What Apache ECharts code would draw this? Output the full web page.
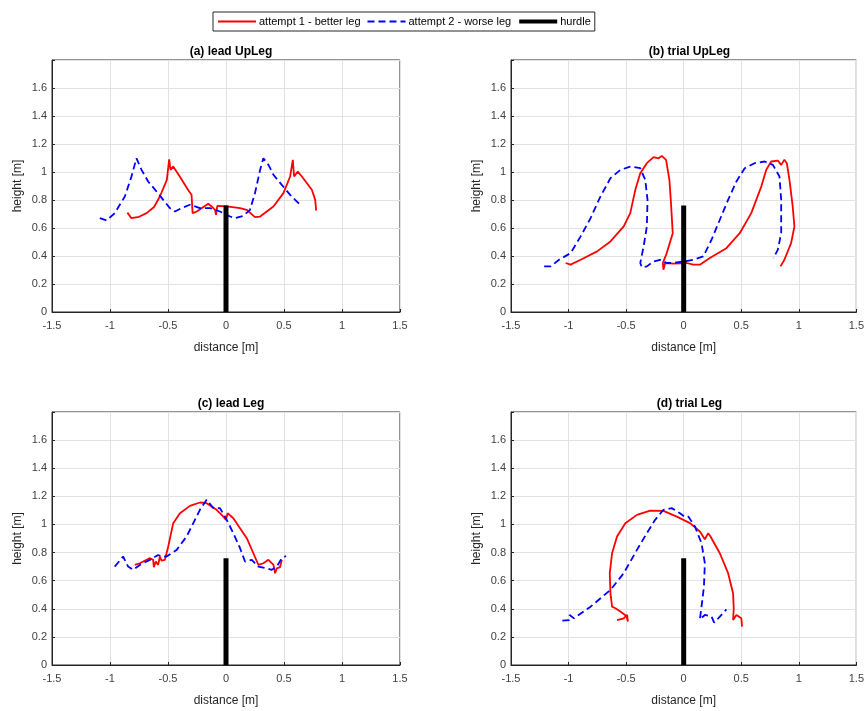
<!DOCTYPE html>
<html>
<head>
<meta charset="utf-8">
<script src="https://cdn.jsdelivr.net/npm/echarts@6/dist/echarts.min.js"></script>
<style>
  html, body { margin: 0; padding: 0; background: #fff; }
  #chart { width: 867px; height: 711px; }
</style>
</head>
<body>
<div id="chart"></div>
<script>
// panel titles and legend names
const panelTitles = ['(a) lead UpLeg', '(b) trial UpLeg', '(c) lead Leg', '(d) trial Leg'];
const seriesNames = ['attempt 1 - better leg', 'attempt 2 - worse leg', 'hurdle'];
const xTicks = [-1.5, -1, -0.5, 0, 0.5, 1, 1.5];
const yTicks = [0, 0.2, 0.4, 0.6, 0.8, 1, 1.2, 1.4, 1.6];

// hurdle: [distance, height]
const hurdle = [[0, 0], [0, 0.76]];

// (a) lead UpLeg
const leadUpLeg1 = [[-0.85, 0.71], [-0.815, 0.67], [-0.75, 0.68], [-0.685, 0.706], [-0.62, 0.75], [-0.57, 0.825], [-0.51, 0.944], [-0.49, 1.09],
  [-0.478, 1.015], [-0.455, 1.04], [-0.40, 0.97], [-0.325, 0.87], [-0.297, 0.837], [-0.288, 0.706], [-0.253, 0.718], [-0.153, 0.773],
  [-0.124, 0.754], [-0.095, 0.73], [-0.086, 0.694], [-0.075, 0.758], [0.006, 0.754], [0.121, 0.742], [0.178, 0.73], [0.25, 0.678],
  [0.294, 0.682], [0.409, 0.754], [0.495, 0.849], [0.553, 0.968], [0.576, 1.087], [0.587, 0.968], [0.619, 1.003], [0.654, 0.968],
  [0.74, 0.873], [0.769, 0.801], [0.777, 0.725]];
const leadUpLeg2 = [[-1.088, 0.67], [-1.03, 0.654], [-0.959, 0.706], [-0.872, 0.825], [-0.815, 0.968], [-0.772, 1.098], [-0.728, 1.015],
  [-0.671, 0.932], [-0.599, 0.861], [-0.541, 0.801], [-0.484, 0.742], [-0.44, 0.718], [-0.383, 0.742], [-0.311, 0.766], [-0.225, 0.742],
  [-0.138, 0.742], [-0.052, 0.718], [0.035, 0.682], [0.078, 0.67], [0.15, 0.687], [0.207, 0.73], [0.25, 0.849], [0.294, 1.015],
  [0.322, 1.098], [0.366, 1.051], [0.409, 0.98], [0.481, 0.908], [0.553, 0.837], [0.596, 0.801], [0.654, 0.754]];

// (b) trial UpLeg
const trialUpLeg1 = [[-1.025, 0.35], [-0.982, 0.338], [-0.895, 0.373], [-0.752, 0.433], [-0.636, 0.504], [-0.521, 0.611], [-0.464, 0.706],
  [-0.42, 0.873], [-0.377, 0.991], [-0.32, 1.063], [-0.262, 1.106], [-0.219, 1.098], [-0.19, 1.115], [-0.153, 1.087], [-0.124, 0.944],
  [-0.112, 0.801], [-0.095, 0.563], [-0.147, 0.421], [-0.181, 0.35], [-0.176, 0.302], [-0.161, 0.35], [-0.089, 0.345], [0.026, 0.35],
  [0.084, 0.338], [0.141, 0.338], [0.227, 0.385], [0.371, 0.456], [0.487, 0.563], [0.587, 0.706], [0.674, 0.896], [0.717, 1.015],
  [0.76, 1.075], [0.818, 1.082], [0.847, 1.051], [0.875, 1.087], [0.896, 1.063], [0.919, 0.944], [0.947, 0.754], [0.962, 0.611],
  [0.933, 0.492], [0.875, 0.373], [0.841, 0.326]];
const trialUpLeg2 = [[-1.212, 0.326], [-1.155, 0.326], [-1.083, 0.373], [-0.982, 0.421], [-0.895, 0.54], [-0.809, 0.67], [-0.723, 0.825],
  [-0.636, 0.956], [-0.55, 1.015], [-0.464, 1.039], [-0.377, 1.027], [-0.334, 0.944], [-0.314, 0.801], [-0.32, 0.611], [-0.348, 0.468],
  [-0.377, 0.35], [-0.363, 0.319], [-0.32, 0.326], [-0.262, 0.361], [-0.204, 0.373], [-0.147, 0.35], [-0.089, 0.35], [-0.003, 0.361],
  [0.084, 0.373], [0.17, 0.397], [0.242, 0.516], [0.314, 0.659], [0.386, 0.801], [0.458, 0.932], [0.53, 1.027], [0.616, 1.063],
  [0.703, 1.075], [0.775, 1.051], [0.832, 0.968], [0.847, 0.801], [0.847, 0.563], [0.818, 0.445], [0.78, 0.385]];

// (c) lead Leg
const leadLeg1 = [[-0.786, 0.712], [-0.743, 0.724], [-0.656, 0.76], [-0.628, 0.748], [-0.622, 0.696], [-0.605, 0.736], [-0.585, 0.712],
  [-0.57, 0.772], [-0.556, 0.743], [-0.527, 0.748], [-0.498, 0.843], [-0.455, 1.009], [-0.397, 1.08], [-0.311, 1.132], [-0.225, 1.156],
  [-0.167, 1.151], [-0.081, 1.104], [-0.023, 1.056], [0, 1.033], [0.014, 1.08], [0.063, 1.044], [0.121, 0.973], [0.179, 0.902],
  [0.236, 0.795], [0.279, 0.712], [0.322, 0.724], [0.366, 0.748], [0.409, 0.712], [0.423, 0.653], [0.438, 0.688], [0.466, 0.696],
  [0.481, 0.748]];
const leadLeg2 = [[-0.959, 0.7], [-0.887, 0.772], [-0.844, 0.7], [-0.8, 0.677], [-0.743, 0.712], [-0.656, 0.748], [-0.585, 0.783],
  [-0.556, 0.772], [-0.513, 0.772], [-0.426, 0.819], [-0.34, 0.914], [-0.282, 1.009], [-0.225, 1.104], [-0.167, 1.175], [-0.109, 1.116],
  [-0.052, 1.116], [0.006, 1.033], [0.063, 0.938], [0.121, 0.831], [0.164, 0.736], [0.222, 0.748], [0.279, 0.7], [0.351, 0.688],
  [0.394, 0.677], [0.438, 0.7], [0.481, 0.76], [0.518, 0.776]];

// (d) trial Leg
const trialLeg1 = [[-0.579, 0.32], [-0.521, 0.332], [-0.492, 0.356], [-0.484, 0.309], [-0.498, 0.349], [-0.55, 0.38], [-0.593, 0.404],
  [-0.622, 0.415], [-0.636, 0.51], [-0.642, 0.653], [-0.622, 0.795], [-0.579, 0.914], [-0.507, 1.009], [-0.406, 1.068], [-0.291, 1.099],
  [-0.176, 1.097], [-0.06, 1.056], [0.055, 1.009], [0.141, 0.95], [0.184, 0.895], [0.213, 0.938], [0.233, 0.914], [0.314, 0.795],
  [0.386, 0.653], [0.429, 0.51], [0.435, 0.404], [0.429, 0.32], [0.458, 0.356], [0.501, 0.332], [0.507, 0.273]];
const trialLeg2 = [[-1.054, 0.316], [-0.996, 0.32], [-0.99, 0.356], [-0.953, 0.332], [-0.809, 0.415], [-0.636, 0.534], [-0.521, 0.653],
  [-0.406, 0.819], [-0.32, 0.938], [-0.248, 1.033], [-0.176, 1.104], [-0.104, 1.116], [-0.032, 1.08], [0.012, 1.052], [0.04, 1.056],
  [0.098, 0.985], [0.155, 0.866], [0.184, 0.724], [0.176, 0.558], [0.155, 0.415], [0.141, 0.325], [0.184, 0.356], [0.242, 0.344],
  [0.265, 0.301], [0.314, 0.344], [0.371, 0.396]];

const panels = [
  [leadUpLeg1, leadUpLeg2],
  [trialUpLeg1, trialUpLeg2],
  [leadLeg1, leadLeg2],
  [trialLeg1, trialLeg2]
];

const chart = echarts.init(document.getElementById('chart'), null, { renderer: 'canvas' });

const font = 'Liberation Sans, Arial, Helvetica, sans-serif';
const boxes = [
  { left: 52, top: 60, width: 348, height: 252 },
  { left: 511, top: 60, width: 347, height: 252 },
  { left: 52, top: 412, width: 348, height: 253 },
  { left: 511, top: 412, width: 347, height: 253 }
];

const grids = [], xAxes = [], yAxes = [], titles = [], series = [];
boxes.forEach(function (b, i) {
  grids.push(Object.assign({ show: true, borderColor: '#262626', borderWidth: 1, backgroundColor: '#fff' }, b));
  titles.push({
    text: panelTitles[i],
    left: b.left + b.width / 2,
    top: b.top - 19,
    textAlign: 'center',
    textStyle: { fontFamily: font, fontSize: 12, fontWeight: 'bold', color: '#000' }
  });
  xAxes.push({
    gridIndex: i, type: 'value', min: xTicks[0], max: xTicks[xTicks.length - 1], interval: 0.5,
    name: 'distance [m]', nameLocation: 'middle', nameGap: 30,
    nameTextStyle: { fontFamily: font, fontSize: 12, color: '#262626' },
    axisLine: { show: true, onZero: false, lineStyle: { color: '#262626' } },
    axisTick: { show: true, inside: true, length: 3, lineStyle: { color: '#262626' } },
    axisLabel: { fontFamily: font, fontSize: 11, color: '#404040', margin: 8, formatter: function (v) { return String(v); } },
    splitLine: { show: true, lineStyle: { color: '#e2e2e2' } }
  });
  yAxes.push({
    gridIndex: i, type: 'value', min: 0, max: 1.8, interval: 0.2,
    name: 'height [m]', nameLocation: 'middle', nameGap: 28,
    nameTextStyle: { fontFamily: font, fontSize: 12, color: '#262626' },
    axisLine: { show: true, onZero: false, lineStyle: { color: '#262626' } },
    axisTick: { show: true, inside: true, length: 3, lineStyle: { color: '#262626' } },
    axisLabel: {
      fontFamily: font, fontSize: 11, color: '#404040', margin: 5,
      formatter: function (v) { return yTicks.some(t => Math.abs(t - v) < 1e-6) ? String(Math.round(v * 10) / 10) : ''; }
    },
    splitLine: { show: true, lineStyle: { color: '#e2e2e2' } }
  });
  series.push({
    name: seriesNames[0], type: 'line', xAxisIndex: i, yAxisIndex: i,
    data: panels[i][0], symbol: 'none', showSymbol: false, smooth: false,
    lineStyle: { color: '#ff0000', width: 1.8 }, itemStyle: { color: '#ff0000' }, z: 3
  });
  series.push({
    name: seriesNames[1], type: 'line', xAxisIndex: i, yAxisIndex: i,
    data: panels[i][1], symbol: 'none', showSymbol: false, smooth: false,
    lineStyle: { color: '#0000ff', width: 1.8, type: [7, 4] }, itemStyle: { color: '#0000ff' }, z: 3
  });
  series.push({
    name: seriesNames[2], type: 'line', xAxisIndex: i, yAxisIndex: i,
    data: hurdle, symbol: 'none', showSymbol: false,
    lineStyle: { color: '#000', width: 5, cap: 'butt' }, itemStyle: { color: '#000' }, z: 4
  });
});

const option = {
  animation: false,
  backgroundColor: '#fff',
  title: titles,
  legend: {
    data: [
      { name: seriesNames[0] },
      { name: seriesNames[1] },
      { name: seriesNames[2], lineStyle: { width: 4 } }
    ],
    left: 213, top: 12,
    itemWidth: 38, itemHeight: 10, itemGap: 6,
    padding: [4, 4, 4, 4],
    borderColor: '#262626', borderWidth: 1, backgroundColor: '#fff',
    itemStyle: { opacity: 0 },
    textStyle: { fontFamily: font, fontSize: 11, color: '#000', padding: [0, 0, 0, -2] }
  },
  grid: grids,
  xAxis: xAxes,
  yAxis: yAxes,
  series: series
};

option && chart.setOption(option);

window.addEventListener('resize', function () {
  chart.resize();
});
</script>
</body>
</html>
